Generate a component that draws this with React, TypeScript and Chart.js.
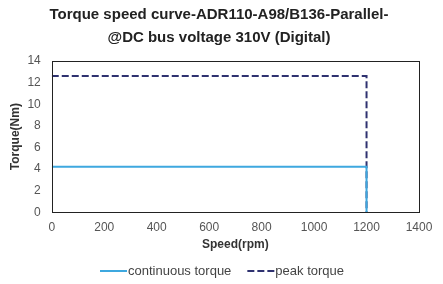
import React, { useEffect, useRef } from "react";
import { Chart, registerables } from "chart.js";

Chart.register(...registerables);

const speeds = [0, 1200, 1200];
const continuousTorque = [4.2, 4.2, 0];
const peakTorque = [12.6, 12.6, 0];
const titleLines = ["Torque speed curve-ADR110-A98/B136-Parallel-", "@DC bus voltage 310V (Digital)"];
const seriesNames = ["continuous torque", "peak torque"];
const seriesColors = ["#3ea8df", "#2f3270"];
const seriesDash = [[], [7, 3]];

const FONT = "Liberation Sans";

const frame = {
  id: "frame",
  afterDraw(chart: any) {
    const { ctx, chartArea } = chart;
    ctx.save();
    ctx.strokeStyle = "#222";
    ctx.lineWidth = 1;
    ctx.strokeRect(
      Math.round(chartArea.left) + 0.5,
      Math.round(chartArea.top) + 0.5,
      Math.round(chartArea.right - chartArea.left),
      Math.round(chartArea.bottom - chartArea.top)
    );
    // title
    ctx.font = `bold 15px "${FONT}"`;
    ctx.fillStyle = "#222";
    ctx.textAlign = "center";
    ctx.textBaseline = "middle";
    titleLines.forEach((t, i) => ctx.fillText(t, 219, 15 + i * 22.5));
    // custom legend
    ctx.font = `13px "${FONT}"`;
    const lineW = 27;
    const gap = 17;
    const widths = seriesNames.map((n) => ctx.measureText(n).width);
    const total = widths.reduce((a, w) => a + lineW + w, 0) + gap * (seriesNames.length - 1);
    let x = chart.width / 2 - total / 2;
    const y = 271;
    seriesNames.forEach((name, i) => {
      ctx.beginPath();
      ctx.setLineDash(seriesDash[i]);
      ctx.strokeStyle = seriesColors[i];
      ctx.lineWidth = 2;
      ctx.moveTo(x, y);
      ctx.lineTo(x + lineW, y);
      ctx.stroke();
      ctx.setLineDash([]);
      ctx.fillStyle = "#444";
      ctx.textBaseline = "middle";
      ctx.textAlign = "left";
      ctx.fillText(name, x + lineW + 1, y);
      x += lineW + widths[i] + gap;
    });
    ctx.restore();
  },
};

export default function App() {
  const ref = useRef<HTMLCanvasElement>(null);
  useEffect(() => {
    document.body.style.margin = "0";
    const toPts = (ys: number[]) => speeds.map((x, i) => ({ x, y: ys[i] }));
    const chart = new Chart(ref.current!, {
      type: "scatter",
      data: {
        datasets: [
          {
            label: seriesNames[0],
            data: toPts(continuousTorque),
            showLine: true,
            borderColor: seriesColors[0],
            backgroundColor: seriesColors[0],
            borderWidth: 2,
            pointRadius: 0,
          },
          {
            label: seriesNames[1],
            data: toPts(peakTorque),
            showLine: true,
            borderColor: seriesColors[1],
            backgroundColor: seriesColors[1],
            borderWidth: 2,
            borderDash: seriesDash[1],
            pointRadius: 0,
          },
        ],
      },
      options: {
        animation: false,
        responsive: false,
        layout: { padding: { left: 8, right: 24, top: 61, bottom: 32 } },
        plugins: {
          title: { display: false },
          legend: { display: false },
          tooltip: { enabled: false },
        },
        scales: {
          x: {
            type: "linear",
            min: 0,
            max: 1400,
            ticks: {
              stepSize: 200,
              color: "#555",
              font: { family: FONT, size: 12 },
              padding: 0,
              callback: (v: any) => String(v),
            },
            grid: { display: false },
            border: { display: false },
            title: {
              display: true,
              text: "Speed(rpm)",
              color: "#333",
              font: { family: FONT, size: 12, weight: "bold" },
              padding: { top: 3, bottom: 0 },
            },
          },
          y: {
            min: 0,
            max: 14,
            ticks: {
              stepSize: 2,
              color: "#555",
              font: { family: FONT, size: 12 },
              padding: 3,
              callback: (v: any) => String(v),
            },
            grid: { display: false },
            border: { display: false },
            title: {
              display: true,
              text: "Torque(Nm)",
              color: "#333",
              font: { family: FONT, size: 12, weight: "bold" },
              padding: { top: 0, bottom: 2 },
            },
          },
        },
      },
      plugins: [frame],
    });
    return () => chart.destroy();
  }, []);
  return (
    <div style={{ width: 443, height: 284, background: "#fff" }}>
      <canvas ref={ref} width={443} height={284} />
    </div>
  );
}
